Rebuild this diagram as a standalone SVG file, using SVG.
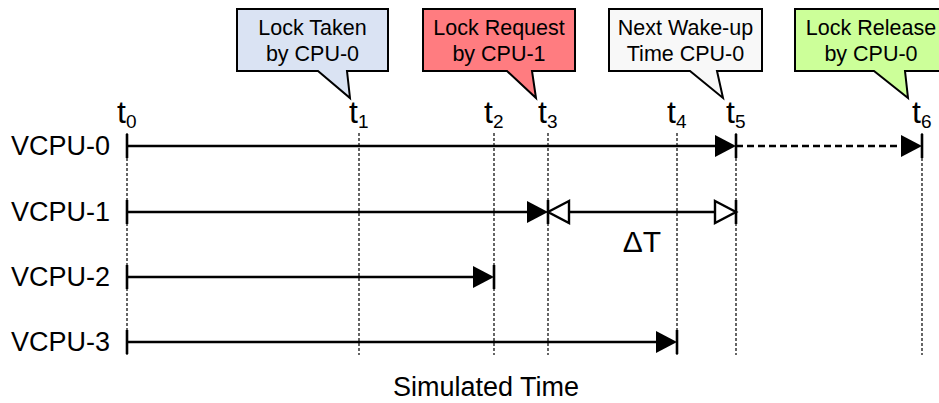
<svg xmlns="http://www.w3.org/2000/svg" xmlns:xlink="http://www.w3.org/1999/xlink" width="939" height="403" viewBox="0 0 939 403">
<style>
text{font-family:"Liberation Sans",Arial,sans-serif;fill:#000}
.lbl{font-size:27px}
.co{font-size:21.5px;text-anchor:middle}
.tm{font-size:32px}
.sub{font-size:19px}
.box{stroke:#000;stroke-width:2}
.grid{stroke:#000;stroke-width:1.2;stroke-dasharray:3,2;fill:none}
.ln{stroke:#000;stroke-width:2.6;fill:none}
.dash{stroke:#000;stroke-width:2.6;stroke-dasharray:7,4;fill:none}
.tick{stroke:#000;stroke-width:2.6}
.fill{fill:#000}
.open{fill:#fff;stroke:#000;stroke-width:2.4}
</style>
<defs>
<path id="ar" d="M-21,-11 L0,0 L-21,11 Z"/>
<path id="al" d="M21,-11 L0,0 L21,11 Z"/>
</defs>
<rect width="939" height="403" fill="#fff"/>
<g id="gridlines">
<line class="grid" x1="127" y1="133" x2="127" y2="355"/>
<line class="grid" x1="359" y1="133" x2="359" y2="355"/>
<line class="grid" x1="494" y1="133" x2="494" y2="355"/>
<line class="grid" x1="548" y1="133" x2="548" y2="355"/>
<line class="grid" x1="677" y1="133" x2="677" y2="355"/>
<line class="grid" x1="736" y1="133" x2="736" y2="355"/>
<line class="grid" x1="922" y1="133" x2="922" y2="355"/>
</g>
<g id="time-labels">
<text class="tm" x="117" y="123">t<tspan class="sub" dy="5">0</tspan></text>
<text class="tm" x="349" y="123">t<tspan class="sub" dy="5">1</tspan></text>
<text class="tm" x="484" y="123">t<tspan class="sub" dy="5">2</tspan></text>
<text class="tm" x="538" y="123">t<tspan class="sub" dy="5">3</tspan></text>
<text class="tm" x="667" y="123">t<tspan class="sub" dy="5">4</tspan></text>
<text class="tm" x="726" y="123">t<tspan class="sub" dy="5">5</tspan></text>
<text class="tm" x="912" y="123">t<tspan class="sub" dy="5">6</tspan></text>
</g>
<g id="callout-lock-taken">
<path class="box" fill="#dae3f3" d="M237,9 H388 V71 H347 L350,98 L318,71 H237 Z"/>
<text class="co" x="312.5" y="35">Lock Taken</text>
<text class="co" x="312.5" y="61">by CPU-0</text>
</g>
<g id="callout-lock-request">
<path class="box" fill="#ff7c80" d="M423,9 H575 V71 H532 L536,98 L507,71 H423 Z"/>
<text class="co" x="499" y="35">Lock Request</text>
<text class="co" x="499" y="61">by CPU-1</text>
</g>
<g id="callout-next-wakeup">
<path class="box" fill="#f8f8f8" d="M609,9 H762 V71 H717 L723,98 L690,71 H609 Z"/>
<text class="co" x="685.5" y="35">Next Wake-up</text>
<text class="co" x="685.5" y="61">Time CPU-0</text>
</g>
<g id="callout-lock-release">
<path class="box" fill="#ccff99" d="M795,9 H947 V71 H905 L908,98 L874,71 H795 Z"/>
<text class="co" x="871" y="35">Lock Release</text>
<text class="co" x="871" y="61">by CPU-0</text>
</g>
<g id="vcpu-labels">
<text class="lbl" x="110" y="155" text-anchor="end">VCPU-0</text>
<text class="lbl" x="110" y="221" text-anchor="end">VCPU-1</text>
<text class="lbl" x="110" y="286" text-anchor="end">VCPU-2</text>
<text class="lbl" x="110" y="351" text-anchor="end">VCPU-3</text>
</g>
<g id="connectors">
<line class="tick" x1="127" y1="134" x2="127" y2="158"/>
<line class="ln" x1="127" y1="146" x2="716" y2="146"/>
<use href="#ar" class="fill" x="736" y="146"/>
<line class="tick" x1="736" y1="134" x2="736" y2="158"/>
<line class="dash" x1="736" y1="146" x2="902" y2="146"/>
<use href="#ar" class="fill" x="922" y="146"/>
<line class="tick" x1="922" y1="134" x2="922" y2="158"/>
<line class="tick" x1="127" y1="200" x2="127" y2="224"/>
<line class="ln" x1="127" y1="212" x2="527" y2="212"/>
<use href="#ar" class="fill" x="548" y="212"/>
<line class="tick" x1="548" y1="200" x2="548" y2="224"/>
<line class="ln" x1="569" y1="212" x2="716" y2="212"/>
<use href="#al" class="open" x="548" y="212"/>
<use href="#ar" class="open" x="736" y="212"/>
<line class="tick" x1="736" y1="200" x2="736" y2="224"/>
<line class="tick" x1="127" y1="265" x2="127" y2="289"/>
<line class="ln" x1="127" y1="277" x2="474" y2="277"/>
<use href="#ar" class="fill" x="494" y="277"/>
<line class="tick" x1="494" y1="265" x2="494" y2="289"/>
<line class="tick" x1="127" y1="330" x2="127" y2="354"/>
<line class="ln" x1="127" y1="342" x2="657" y2="342"/>
<use href="#ar" class="fill" x="677" y="342"/>
<line class="tick" x1="677" y1="330" x2="677" y2="354"/>
</g>
<g id="delta-t">
<text x="642" y="252" font-size="30" text-anchor="middle">ΔT</text>
</g>
<g id="axis-title">
<text x="486" y="396" font-size="27" text-anchor="middle">Simulated Time</text>
</g>
</svg>
